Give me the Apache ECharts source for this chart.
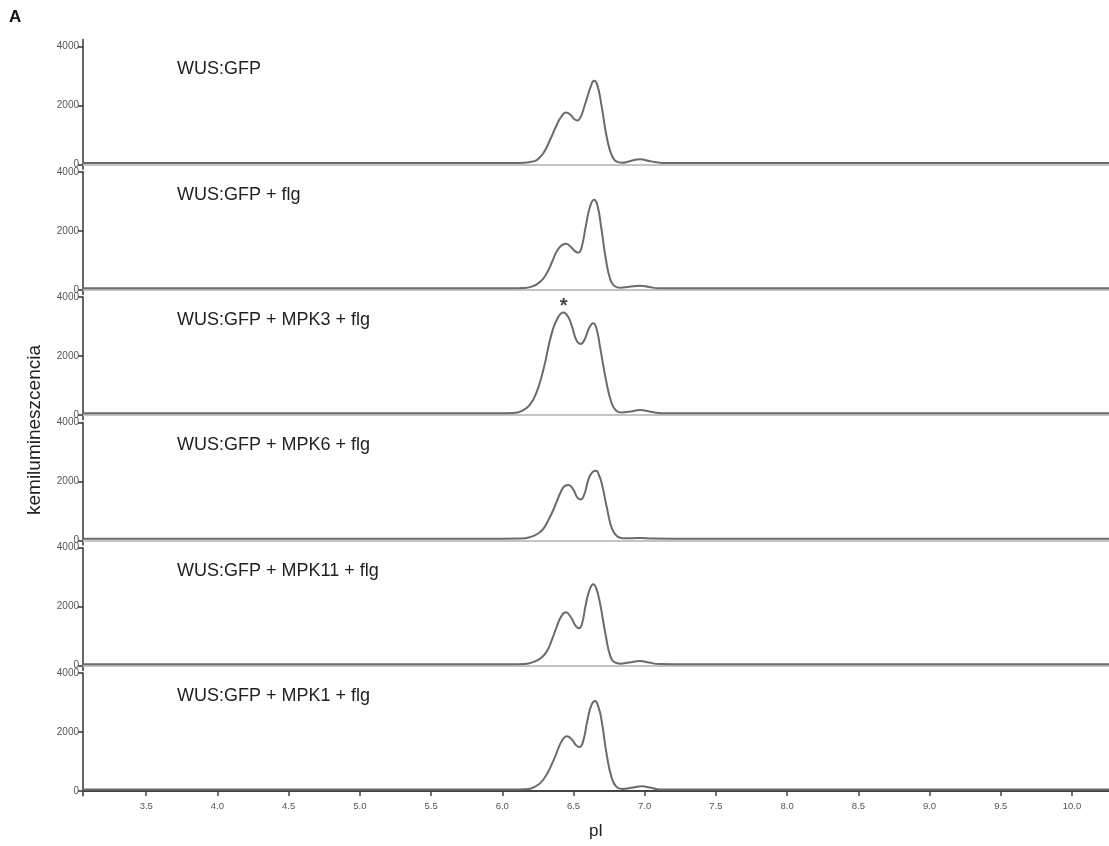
<!DOCTYPE html>
<html>
<head>
<meta charset="utf-8">
<script src="https://cdn.jsdelivr.net/npm/echarts@6/dist/echarts.min.js"></script>
<style>
  html, body { margin: 0; padding: 0; background: #fff; }
  #chart { width: 1109px; height: 846px; }
</style>
</head>
<body>
<div id="chart"></div>
<script>
// panel names, top to bottom
var panelNames = ['WUS:GFP', 'WUS:GFP + flg', 'WUS:GFP + MPK3 + flg', 'WUS:GFP + MPK6 + flg', 'WUS:GFP + MPK11 + flg', 'WUS:GFP + MPK1 + flg'];

// [pI, kemilumineszcencia]
var wusGfp = [[3.0,50],[6.0,50],[6.12,52],[6.2,90],[6.242,150],[6.288,380],[6.335,830],[6.382,1340],[6.417,1640],[6.447,1760],[6.48,1680],[6.505,1540],[6.527,1490],[6.55,1610],[6.575,1950],[6.6,2330],[6.621,2640],[6.644,2840],[6.667,2700],[6.698,1960],[6.733,940],[6.768,320],[6.803,95],[6.838,60],[6.9,120],[6.967,175],[7.04,110],[7.12,55],[7.3,50],[10.3,50]];
var wusFlg = [[3.0,50],[6.05,50],[6.16,60],[6.22,130],[6.27,290],[6.312,560],[6.35,950],[6.382,1300],[6.415,1500],[6.447,1560],[6.48,1460],[6.51,1310],[6.534,1260],[6.555,1400],[6.588,2200],[6.615,2800],[6.644,3050],[6.667,2880],[6.695,2100],[6.728,1020],[6.76,330],[6.79,120],[6.83,70],[6.89,100],[6.967,135],[7.03,95],[7.1,55],[7.3,50],[10.3,50]];
var wusMpk3 = [[3.0,60],[5.95,60],[6.08,70],[6.14,150],[6.19,330],[6.235,700],[6.288,1530],[6.347,2770],[6.39,3300],[6.429,3480],[6.46,3350],[6.49,3000],[6.52,2540],[6.55,2410],[6.578,2560],[6.61,2950],[6.639,3110],[6.662,2920],[6.686,2320],[6.728,1190],[6.768,400],[6.8,150],[6.84,90],[6.9,125],[6.967,170],[7.04,115],[7.12,65],[7.3,60],[10.3,60]];
var wusMpk6 = [[3.0,60],[6.0,60],[6.13,65],[6.2,120],[6.25,230],[6.288,390],[6.33,750],[6.358,1030],[6.417,1710],[6.44,1850],[6.464,1880],[6.5,1710],[6.525,1470],[6.551,1390],[6.575,1550],[6.604,2050],[6.63,2300],[6.658,2360],[6.68,2200],[6.698,1940],[6.733,1140],[6.76,550],[6.78,300],[6.81,130],[6.85,75],[6.9,70],[6.97,85],[7.05,65],[7.2,60],[10.3,60]];
var wusMpk11 = [[3.0,50],[6.05,50],[6.16,60],[6.22,130],[6.27,250],[6.312,480],[6.35,900],[6.382,1320],[6.415,1680],[6.445,1810],[6.48,1660],[6.515,1350],[6.539,1270],[6.56,1420],[6.588,2120],[6.615,2600],[6.639,2760],[6.66,2620],[6.686,2120],[6.728,980],[6.76,300],[6.79,110],[6.83,70],[6.89,110],[6.967,160],[7.03,105],[7.1,55],[7.3,50],[10.3,50]];
var wusMpk1 = [[3.0,50],[6.05,50],[6.16,60],[6.23,150],[6.288,380],[6.358,1020],[6.405,1580],[6.43,1780],[6.452,1860],[6.49,1740],[6.515,1570],[6.541,1490],[6.565,1640],[6.597,2370],[6.625,2900],[6.651,3050],[6.675,2850],[6.698,2370],[6.733,1240],[6.768,450],[6.8,150],[6.84,70],[6.92,120],[6.98,160],[7.04,115],[7.1,55],[7.3,50],[10.3,50]];
var panelData = [wusGfp, wusFlg, wusMpk3, wusMpk6, wusMpk11, wusMpk1];

// the asterisk over the MPK3 peak
var starPoint = [6.43, 3680];

var xTicks = [3.5, 4.0, 4.5, 5.0, 5.5, 6.0, 6.5, 7.0, 7.5, 8.0, 8.5, 9.0, 9.5, 10.0];
var yTicks = [0, 2000, 4000];

var font = 'Liberation Sans, Arial, sans-serif';
var chart = echarts.init(document.getElementById('chart'));

var grids = [], xAxes = [], yAxes = [], series = [], titles = [];
var pxPerUnit = 29.5 / 1000;
for (var i = 0; i < 6; i++) {
    var top4000 = 46.5 + 125.3 * i;
    var yMax = i === 0 ? 4237 : 4000;
    var gTop = top4000 - (yMax - 4000) * pxPerUnit;
    var gHeight = (yMax + 160) * pxPerUnit;
    var last = i === 5;
    grids.push({ left: 83, right: 0, top: gTop, height: gHeight });
    xAxes.push({
        type: 'value', gridIndex: i, min: 3.056, max: 10.26,
        axisLine: { lineStyle: { color: last ? '#444' : '#c4c4c4', width: 2 } },
        axisTick: { show: last, customValues: xTicks, length: 5, lineStyle: { color: '#444', width: 1.5 } },
        axisLabel: {
            show: last, customValues: xTicks, margin: 6, fontSize: 9.5, color: '#555', fontFamily: font,
            formatter: function (v) { return v.toFixed(1); }
        },
        splitLine: { show: false },
        name: last ? 'pI' : '', nameLocation: 'middle', nameGap: 27,
        nameTextStyle: { fontSize: 17, color: '#222', fontFamily: font }
    });
    yAxes.push({
        type: 'value', gridIndex: i, min: -160, max: yMax,
        axisLine: { show: true, lineStyle: { color: '#333', width: 1.5 } },
        axisTick: { show: true, customValues: yTicks, length: 5, lineStyle: { color: '#333', width: 1.5 } },
        axisLabel: {
            customValues: yTicks, margin: 4, fontSize: 10, color: '#555', fontFamily: font,
            formatter: function (v) { return String(v); }
        },
        splitLine: { show: false }
    });
    series.push({
        type: 'line', xAxisIndex: i, yAxisIndex: i,
        data: panelData[i], showSymbol: false, smooth: 0.5,
        lineStyle: { color: '#6b6b6b', width: 2 }
    });
    titles.push({
        text: panelNames[i], left: 177, top: top4000 + 14, padding: 0,
        textStyle: { fontSize: 18, fontWeight: 'normal', color: '#222', fontFamily: font }
    });
}

series.push({
    type: 'scatter', xAxisIndex: 2, yAxisIndex: 2,
    data: [starPoint], symbolSize: 0,
    label: { show: true, formatter: '*', position: 'inside', fontSize: 20, fontWeight: 'bold', color: '#111', fontFamily: font }
});

titles.push({
    text: 'A', left: 9, top: 9, padding: 0,
    textStyle: { fontSize: 17, fontWeight: 'bold', color: '#111', fontFamily: font }
});

var option = {
    animation: false,
    backgroundColor: '#fff',
    title: titles,
    grid: grids,
    xAxis: xAxes,
    yAxis: yAxes,
    series: series,
    graphic: [{
        type: 'text', x: 35, y: 430, rotation: Math.PI / 2,
        style: { text: 'kemilumineszcencia', fontSize: 19, fill: '#222', fontFamily: font, align: 'center', verticalAlign: 'middle' }
    }]
};
chart.setOption(option);
</script>
</body>
</html>
